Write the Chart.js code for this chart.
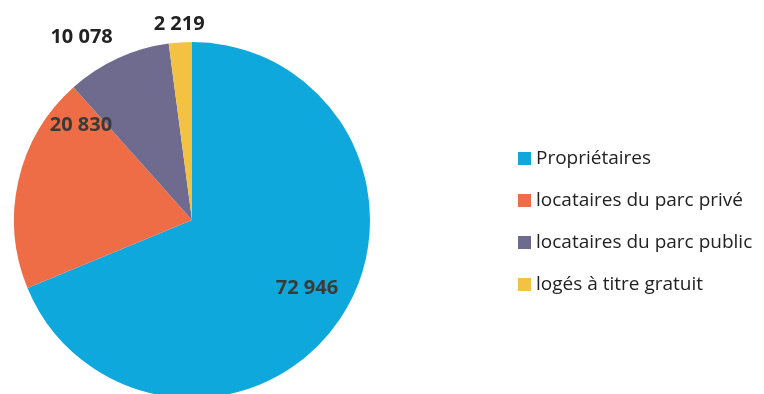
<!DOCTYPE html>
<html>
<head>
<meta charset="utf-8">
<script src="https://cdn.jsdelivr.net/npm/chart.js@4.4.0/dist/chart.umd.min.js"></script>
<style>
  html, body { margin: 0; padding: 0; background: #fff; overflow: hidden; }
  #wrap { position: relative; width: 764px; height: 400px; }
  #legend { position: absolute; left: 518px; top: 145px; font-family: "Open Sans", sans-serif; font-size: 19px; color: #222; }
  #legend div { height: 42px; line-height: 24px; white-space: nowrap; }
  #legend span { display: inline-block; width: 13px; height: 13px; margin-right: 5px; vertical-align: -1px; }
</style>
</head>
<body>
<div id="wrap">
  <canvas id="pieChart" width="764" height="400"></canvas>
  <div id="legend"></div>
</div>
<script>
var labels = ["Propriétaires", "locataires du parc privé", "locataires du parc public", "logés à titre gratuit"];
var values = [72946, 20830, 10078, 2219];
var colors = ["#0ea8dd", "#ee6d47", "#6f6b8f", "#f3c243"];
var valueText = ["72 946", "20 830", "10 078", "2 219"];

// where each value label sits: fraction across its slice, distance as share of radius
var labelPos = [
    { along: 0.487, dist: 0.75, color: "#3a3a3a" },
    { along: 0.89, dist: 0.82, color: "#3a3a3a" },
    { along: 0.31, dist: 1.2, color: "#222" },
    { along: 0.5, dist: 1.1, color: "#222" }
];

var valueLabels = {
    id: 'valueLabels',
    afterDatasetsDraw: function(chart) {
        var ctx = chart.ctx;
        var arcs = chart.getDatasetMeta(0).data;
        ctx.save();
        ctx.font = "bold 20px 'Open Sans', sans-serif";
        ctx.textAlign = "center";
        ctx.textBaseline = "middle";
        arcs.forEach(function(arc, i) {
            var p = labelPos[i];
            var a = arc.startAngle + (arc.endAngle - arc.startAngle) * p.along;
            var r = arc.outerRadius * p.dist;
            ctx.fillStyle = p.color;
            ctx.fillText(valueText[i], arc.x + Math.cos(a) * r, arc.y + Math.sin(a) * r);
        });
        ctx.restore();
    }
};

var pie = document.getElementById("pieChart");
var chart1 = new Chart(pie, {
    type: 'pie',
    data: {
        labels: labels,
        datasets: [{
            data: values,
            backgroundColor: colors,
            borderWidth: 0
        }]
    },
    options: {
        responsive: false,
        animation: false,
        layout: {
            padding: { left: 14, top: 42, right: 394, bottom: 2 }
        },
        plugins: {
            legend: { display: false },
            tooltip: { enabled: false }
        }
    },
    plugins: [valueLabels]
});

var legend = document.getElementById("legend");
labels.forEach(function(l, i) {
    legend.innerHTML += '<div><span style="background:' + colors[i] + '"></span>' + l + '</div>';
});
</script>
</body>
</html>
